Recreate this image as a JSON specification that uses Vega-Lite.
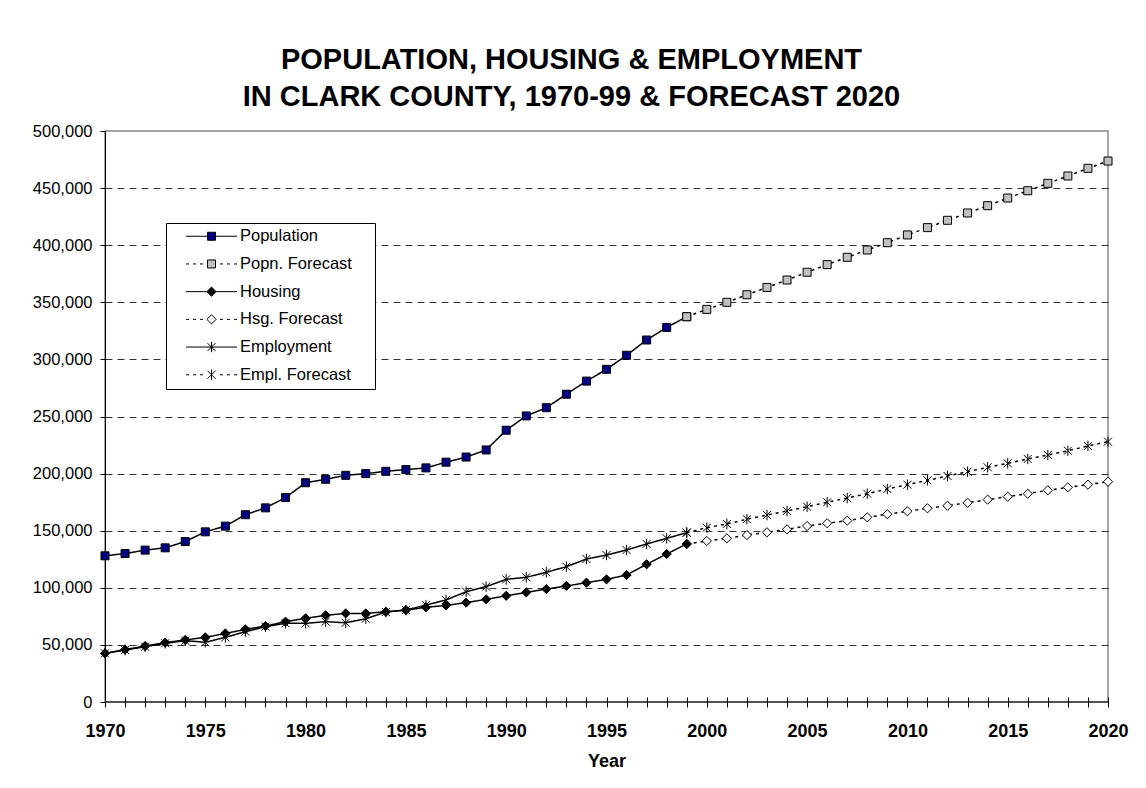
{
 "$schema": "https://vega.github.io/schema/vega-lite/v6.json",
 "autosize": {"type": "none"},
 "padding": {"left": 105, "top": 131, "right": 38, "bottom": 86},
 "width": 1003,
 "height": 571,
 "background": "white",
 "config": {"font": "Liberation Sans", "view": {"stroke": "#888888", "strokeWidth": 1.5}},
 "title": {
  "text": ["POPULATION, HOUSING & EMPLOYMENT", "IN CLARK COUNTY, 1970-99 & FORECAST 2020"],
  "font": "Liberation Sans", "fontSize": 29, "fontWeight": "bold", "color": "black",
  "lineHeight": 37, "offset": 11, "dx": -35, "anchor": "middle", "frame": "group"
 },
 "data": {"values": [
  {"series": "Population", "year": 1970, "value": 128000},
  {"series": "Population", "year": 1971, "value": 130000},
  {"series": "Population", "year": 1972, "value": 133000},
  {"series": "Population", "year": 1973, "value": 135000},
  {"series": "Population", "year": 1974, "value": 140500},
  {"series": "Population", "year": 1975, "value": 149000},
  {"series": "Population", "year": 1976, "value": 154000},
  {"series": "Population", "year": 1977, "value": 164000},
  {"series": "Population", "year": 1978, "value": 170000},
  {"series": "Population", "year": 1979, "value": 179000},
  {"series": "Population", "year": 1980, "value": 192000},
  {"series": "Population", "year": 1981, "value": 195000},
  {"series": "Population", "year": 1982, "value": 198500},
  {"series": "Population", "year": 1983, "value": 200000},
  {"series": "Population", "year": 1984, "value": 202000},
  {"series": "Population", "year": 1985, "value": 203500},
  {"series": "Population", "year": 1986, "value": 205000},
  {"series": "Population", "year": 1987, "value": 210000},
  {"series": "Population", "year": 1988, "value": 214500},
  {"series": "Population", "year": 1989, "value": 220700},
  {"series": "Population", "year": 1990, "value": 238000},
  {"series": "Population", "year": 1991, "value": 250500},
  {"series": "Population", "year": 1992, "value": 257700},
  {"series": "Population", "year": 1993, "value": 269500},
  {"series": "Population", "year": 1994, "value": 281000},
  {"series": "Population", "year": 1995, "value": 291300},
  {"series": "Population", "year": 1996, "value": 303600},
  {"series": "Population", "year": 1997, "value": 317000},
  {"series": "Population", "year": 1998, "value": 328000},
  {"series": "Population", "year": 1999, "value": 337400},
  {"series": "Hsg. Forecast", "year": 1999, "value": 138400},
  {"series": "Hsg. Forecast", "year": 2000, "value": 141000},
  {"series": "Hsg. Forecast", "year": 2001, "value": 143300},
  {"series": "Hsg. Forecast", "year": 2002, "value": 146200},
  {"series": "Hsg. Forecast", "year": 2003, "value": 148600},
  {"series": "Hsg. Forecast", "year": 2004, "value": 151200},
  {"series": "Hsg. Forecast", "year": 2005, "value": 154100},
  {"series": "Hsg. Forecast", "year": 2006, "value": 156500},
  {"series": "Hsg. Forecast", "year": 2007, "value": 158800},
  {"series": "Hsg. Forecast", "year": 2008, "value": 161700},
  {"series": "Hsg. Forecast", "year": 2009, "value": 164400},
  {"series": "Hsg. Forecast", "year": 2010, "value": 167000},
  {"series": "Hsg. Forecast", "year": 2011, "value": 169600},
  {"series": "Hsg. Forecast", "year": 2012, "value": 171900},
  {"series": "Hsg. Forecast", "year": 2013, "value": 174500},
  {"series": "Hsg. Forecast", "year": 2014, "value": 177200},
  {"series": "Hsg. Forecast", "year": 2015, "value": 179800},
  {"series": "Hsg. Forecast", "year": 2016, "value": 182400},
  {"series": "Hsg. Forecast", "year": 2017, "value": 185400},
  {"series": "Hsg. Forecast", "year": 2018, "value": 188000},
  {"series": "Hsg. Forecast", "year": 2019, "value": 190300},
  {"series": "Hsg. Forecast", "year": 2020, "value": 192900},
  {"series": "Housing", "year": 1970, "value": 42600},
  {"series": "Housing", "year": 1971, "value": 45900},
  {"series": "Housing", "year": 1972, "value": 49000},
  {"series": "Housing", "year": 1973, "value": 52000},
  {"series": "Housing", "year": 1974, "value": 54300},
  {"series": "Housing", "year": 1975, "value": 56600},
  {"series": "Housing", "year": 1976, "value": 60000},
  {"series": "Housing", "year": 1977, "value": 63600},
  {"series": "Housing", "year": 1978, "value": 66500},
  {"series": "Housing", "year": 1979, "value": 70300},
  {"series": "Housing", "year": 1980, "value": 73300},
  {"series": "Housing", "year": 1981, "value": 75900},
  {"series": "Housing", "year": 1982, "value": 77600},
  {"series": "Housing", "year": 1983, "value": 77600},
  {"series": "Housing", "year": 1984, "value": 79000},
  {"series": "Housing", "year": 1985, "value": 80500},
  {"series": "Housing", "year": 1986, "value": 82900},
  {"series": "Housing", "year": 1987, "value": 84600},
  {"series": "Housing", "year": 1988, "value": 87000},
  {"series": "Housing", "year": 1989, "value": 89900},
  {"series": "Housing", "year": 1990, "value": 93000},
  {"series": "Housing", "year": 1991, "value": 96000},
  {"series": "Housing", "year": 1992, "value": 98900},
  {"series": "Housing", "year": 1993, "value": 101600},
  {"series": "Housing", "year": 1994, "value": 104500},
  {"series": "Housing", "year": 1995, "value": 107400},
  {"series": "Housing", "year": 1996, "value": 111200},
  {"series": "Housing", "year": 1997, "value": 120600},
  {"series": "Housing", "year": 1998, "value": 129600},
  {"series": "Housing", "year": 1999, "value": 138400},
  {"series": "Popn. Forecast", "year": 1999, "value": 337400},
  {"series": "Popn. Forecast", "year": 2000, "value": 343800},
  {"series": "Popn. Forecast", "year": 2001, "value": 350000},
  {"series": "Popn. Forecast", "year": 2002, "value": 356600},
  {"series": "Popn. Forecast", "year": 2003, "value": 363000},
  {"series": "Popn. Forecast", "year": 2004, "value": 369500},
  {"series": "Popn. Forecast", "year": 2005, "value": 376300},
  {"series": "Popn. Forecast", "year": 2006, "value": 383000},
  {"series": "Popn. Forecast", "year": 2007, "value": 389400},
  {"series": "Popn. Forecast", "year": 2008, "value": 395800},
  {"series": "Popn. Forecast", "year": 2009, "value": 402200},
  {"series": "Popn. Forecast", "year": 2010, "value": 409000},
  {"series": "Popn. Forecast", "year": 2011, "value": 415400},
  {"series": "Popn. Forecast", "year": 2012, "value": 421800},
  {"series": "Popn. Forecast", "year": 2013, "value": 428200},
  {"series": "Popn. Forecast", "year": 2014, "value": 434600},
  {"series": "Popn. Forecast", "year": 2015, "value": 441300},
  {"series": "Popn. Forecast", "year": 2016, "value": 447700},
  {"series": "Popn. Forecast", "year": 2017, "value": 454200},
  {"series": "Popn. Forecast", "year": 2018, "value": 460600},
  {"series": "Popn. Forecast", "year": 2019, "value": 467300},
  {"series": "Popn. Forecast", "year": 2020, "value": 473700},
  {"series": "Employment", "year": 1970, "value": 42600},
  {"series": "Employment", "year": 1971, "value": 45500},
  {"series": "Employment", "year": 1972, "value": 48400},
  {"series": "Employment", "year": 1973, "value": 51400},
  {"series": "Employment", "year": 1974, "value": 53700},
  {"series": "Employment", "year": 1975, "value": 52300},
  {"series": "Employment", "year": 1976, "value": 56600},
  {"series": "Employment", "year": 1977, "value": 61600},
  {"series": "Employment", "year": 1978, "value": 66000},
  {"series": "Employment", "year": 1979, "value": 68900},
  {"series": "Employment", "year": 1980, "value": 68900},
  {"series": "Employment", "year": 1981, "value": 70300},
  {"series": "Employment", "year": 1982, "value": 69400},
  {"series": "Employment", "year": 1983, "value": 72900},
  {"series": "Employment", "year": 1984, "value": 78800},
  {"series": "Employment", "year": 1985, "value": 80500},
  {"series": "Employment", "year": 1986, "value": 84900},
  {"series": "Employment", "year": 1987, "value": 89300},
  {"series": "Employment", "year": 1988, "value": 96600},
  {"series": "Employment", "year": 1989, "value": 101000},
  {"series": "Employment", "year": 1990, "value": 107400},
  {"series": "Employment", "year": 1991, "value": 109200},
  {"series": "Employment", "year": 1992, "value": 113600},
  {"series": "Employment", "year": 1993, "value": 118500},
  {"series": "Employment", "year": 1994, "value": 125200},
  {"series": "Employment", "year": 1995, "value": 128700},
  {"series": "Employment", "year": 1996, "value": 133100},
  {"series": "Employment", "year": 1997, "value": 138400},
  {"series": "Employment", "year": 1998, "value": 143300},
  {"series": "Employment", "year": 1999, "value": 148300},
  {"series": "Empl. Forecast", "year": 1999, "value": 148300},
  {"series": "Empl. Forecast", "year": 2000, "value": 152600},
  {"series": "Empl. Forecast", "year": 2001, "value": 155900},
  {"series": "Empl. Forecast", "year": 2002, "value": 160000},
  {"series": "Empl. Forecast", "year": 2003, "value": 163700},
  {"series": "Empl. Forecast", "year": 2004, "value": 167300},
  {"series": "Empl. Forecast", "year": 2005, "value": 171000},
  {"series": "Empl. Forecast", "year": 2006, "value": 174900},
  {"series": "Empl. Forecast", "year": 2007, "value": 178600},
  {"series": "Empl. Forecast", "year": 2008, "value": 182400},
  {"series": "Empl. Forecast", "year": 2009, "value": 186500},
  {"series": "Empl. Forecast", "year": 2010, "value": 190300},
  {"series": "Empl. Forecast", "year": 2011, "value": 194100},
  {"series": "Empl. Forecast", "year": 2012, "value": 197900},
  {"series": "Empl. Forecast", "year": 2013, "value": 201700},
  {"series": "Empl. Forecast", "year": 2014, "value": 205500},
  {"series": "Empl. Forecast", "year": 2015, "value": 209000},
  {"series": "Empl. Forecast", "year": 2016, "value": 212800},
  {"series": "Empl. Forecast", "year": 2017, "value": 216300},
  {"series": "Empl. Forecast", "year": 2018, "value": 220000},
  {"series": "Empl. Forecast", "year": 2019, "value": 224200},
  {"series": "Empl. Forecast", "year": 2020, "value": 228000}
 ]},
 "encoding": {
  "x": {
   "field": "year", "type": "quantitative",
   "scale": {"domain": [1970, 2020], "nice": false, "zero": false},
   "axis": {
    "title": "Year", "titleFontSize": 18, "titleFontWeight": "bold", "titleColor": "black", "titlePadding": 12,
    "values": [1970,1971,1972,1973,1974,1975,1976,1977,1978,1979,1980,1981,1982,1983,1984,1985,1986,1987,1988,1989,1990,1991,1992,1993,1994,1995,1996,1997,1998,1999,2000,2001,2002,2003,2004,2005,2006,2007,2008,2009,2010,2011,2012,2013,2014,2015,2016,2017,2018,2019,2020],
    "format": "d",
    "labelExpr": "datum.value % 5 === 0 ? datum.label : ''",
    "labelFontSize": 18, "labelFontWeight": "bold", "labelColor": "black", "labelPadding": 15,
    "labelFlush": false, "labelOverlap": false, "labelBound": false,
    "tickSize": 10, "tickColor": "black", "tickWidth": 1, "offset": -5, "domain": false, "grid": false
   }
  },
  "y": {
   "field": "value", "type": "quantitative",
   "scale": {"domain": [0, 500000], "nice": false, "zero": true},
   "axis": {
    "title": null,
    "values": [0,50000,100000,150000,200000,250000,300000,350000,400000,450000,500000],
    "format": ",d",
    "labelFontSize": 16.5, "labelColor": "black", "labelPadding": 8, "labelFlush": false,
    "tickSize": 5, "tickColor": "black", "tickWidth": 1,
    "domainColor": "black", "domainWidth": 1,
    "grid": true,
    "gridColor": {"condition": {"test": "datum.value === 500000 || datum.value === 0", "value": "transparent"}, "value": "#333333"},
    "gridDash": [7, 5], "gridWidth": 1
   }
  }
 },
 "resolve": {"scale": {"shape": "independent", "fill": "independent", "stroke": "independent"}},
 "layer": [
  {
   "data": {"values": [{"year": 1970, "value": 0}, {"year": 2020, "value": 0}]},
   "mark": {"type": "line", "color": "black", "strokeWidth": 1},
   "encoding": {}
  },
  {
   "mark": {"type": "line", "color": "black", "strokeWidth": 1.5},
   "encoding": {
    "strokeDash": {
     "field": "series", "type": "nominal",
     "scale": {
      "domain": ["Popn. Forecast", "Hsg. Forecast", "Empl. Forecast", "Population", "Housing", "Employment"],
      "range": [[3, 4], [3, 4], [3, 4], [1, 0], [1, 0], [1, 0]]
     },
     "legend": null
    }
   }
  },
  {
   "mark": {"type": "point", "filled": true, "stroke": "black", "strokeWidth": 1, "size": 64, "opacity": 1},
   "encoding": {
    "shape": {
     "field": "series", "type": "nominal",
     "scale": {
      "domain": ["Population", "Popn. Forecast", "Housing", "Hsg. Forecast", "Employment", "Empl. Forecast"],
      "range": ["square", "square", "M0,-1.15L1.15,0L0,1.15L-1.15,0Z", "M0,-1.15L1.15,0L0,1.15L-1.15,0Z", "M0,-1.3V1.3M-1,-1L1,1M-1,1L1,-1", "M0,-1.3V1.3M-1,-1L1,1M-1,1L1,-1"]
     },
     "legend": null
    },
    "fill": {
     "field": "series", "type": "nominal",
     "scale": {
      "domain": ["Population", "Popn. Forecast", "Housing", "Hsg. Forecast", "Employment", "Empl. Forecast"],
      "range": ["#000080", "#c0c0c0", "#000000", "#ffffff", "#000000", "#000000"]
     },
     "legend": null
    }
   }
  },
  {
   "mark": {"type": "point", "filled": true, "strokeWidth": 1, "size": 64, "opacity": 0},
   "encoding": {
    "stroke": {
     "field": "series", "type": "nominal",
     "scale": {
      "domain": ["Population", "Popn. Forecast", "Housing", "Hsg. Forecast", "Employment", "Empl. Forecast"],
      "range": ["#000000", "#000000", "#000000", "#000000", "#000000", "#000000"]
     },
     "legend": {
      "title": null, "orient": "none", "legendX": 61, "legendY": 92, "padding": 5, "rowPadding": 10.7,
      "symbolSize": 64, "symbolStrokeColor": "black", "symbolStrokeWidth": 1, "symbolOffset": 32.25, "symbolOpacity": 1,
      "labelFont": "Liberation Sans", "labelFontSize": 16.5, "labelColor": "black", "labelOffset": 20.25, "labelLimit": 400,
      "strokeColor": "black", "fillColor": "white"
     }
    },
    "shape": {
     "field": "series", "type": "nominal",
     "scale": {
      "domain": ["Population", "Popn. Forecast", "Housing", "Hsg. Forecast", "Employment", "Empl. Forecast"],
      "range": [
       "M-6.375,0H-1M1,0H6.375M-1,-1H1V1H-1ZM38.9,0",
       "M-6.375,0H-5.625M-4.625,0H-3.875M-2.875,0H-2.125M2.125,0H2.875M3.875,0H4.625M5.625,0H6.375M-1,-1H1V1H-1ZM38.9,0",
       "M-6.375,0H-1.15M1.15,0H6.375M0,-1.15L1.15,0L0,1.15L-1.15,0ZM38.9,0",
       "M-6.375,0H-5.625M-4.625,0H-3.875M-2.875,0H-2.125M2.125,0H2.875M3.875,0H4.625M5.625,0H6.375M0,-1.15L1.15,0L0,1.15L-1.15,0ZM38.9,0",
       "M-6.375,0H6.375M0,-1.3V1.3M-1,-1L1,1M-1,1L1,-1M38.9,0",
       "M-6.375,0H-5.625M-4.625,0H-3.875M-2.875,0H-2.125M2.125,0H2.875M3.875,0H4.625M5.625,0H6.375M0,-1.3V1.3M-1,-1L1,1M-1,1L1,-1M38.9,0"
      ]
     },
     "legend": {
      "title": null, "orient": "none", "legendX": 61, "legendY": 92, "padding": 5, "rowPadding": 10.7,
      "symbolSize": 64, "symbolStrokeColor": "black", "symbolStrokeWidth": 1, "symbolOffset": 32.25, "symbolOpacity": 1,
      "labelFont": "Liberation Sans", "labelFontSize": 16.5, "labelColor": "black", "labelOffset": 20.25, "labelLimit": 400,
      "strokeColor": "black", "fillColor": "white"
     }
    },
    "fill": {
     "field": "series", "type": "nominal",
     "scale": {
      "domain": ["Population", "Popn. Forecast", "Housing", "Hsg. Forecast", "Employment", "Empl. Forecast"],
      "range": ["#000080", "#c0c0c0", "#000000", "#ffffff", "#000000", "#000000"]
     },
     "legend": {
      "title": null, "orient": "none", "legendX": 61, "legendY": 92, "padding": 5, "rowPadding": 10.7,
      "symbolSize": 64, "symbolStrokeColor": "black", "symbolStrokeWidth": 1, "symbolOffset": 32.25, "symbolOpacity": 1,
      "labelFont": "Liberation Sans", "labelFontSize": 16.5, "labelColor": "black", "labelOffset": 20.25, "labelLimit": 400,
      "strokeColor": "black", "fillColor": "white"
     }
    }
   }
  }
 ]
}
